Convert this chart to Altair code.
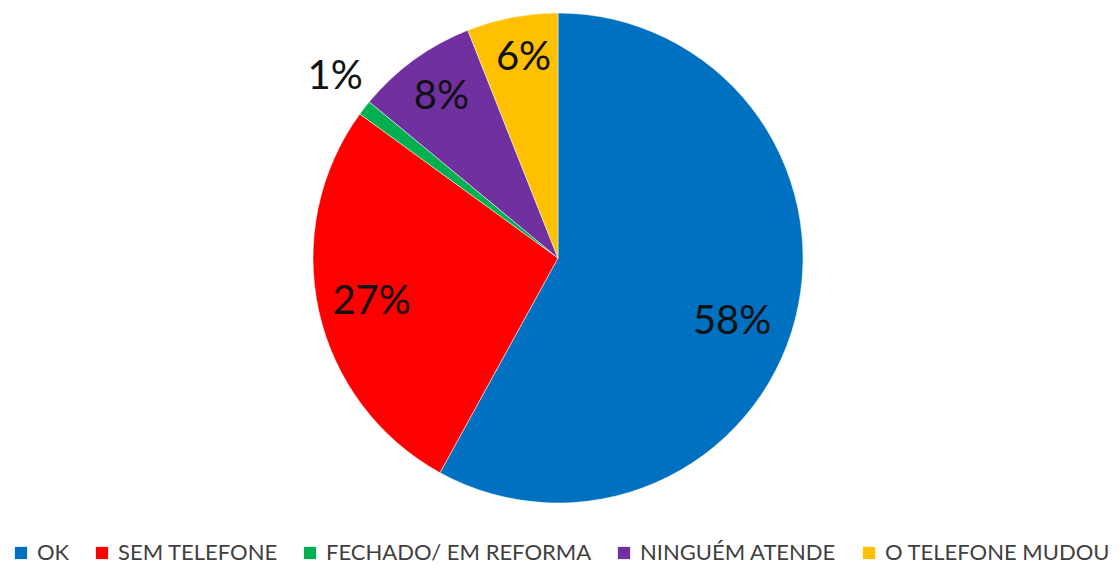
import altair as alt
import pandas as pd
import math

categories = ["OK", "SEM TELEFONE", "FECHADO/ EM REFORMA", "NINGUÉM ATENDE", "O TELEFONE MUDOU"]
values = [58, 27, 1, 8, 6]
labels = ["58%", "27%", "1%", "8%", "6%"]
colors = ["#0070C0", "#FF0000", "#00B050", "#7030A0", "#FFC000"]

df = pd.DataFrame({
    "cat": categories,
    "value": values,
    "label": labels,
    "order": list(range(len(categories))),
})

pie = alt.Chart(df).mark_arc(outerRadius=245, stroke="white", strokeWidth=0.5).encode(
    theta=alt.Theta("value:Q", stack=True),
    order=alt.Order("order:Q"),
    color=alt.Color(
        "cat:N",
        scale=alt.Scale(domain=categories, range=colors),
        sort=categories,
        legend=alt.Legend(
            title=None,
            orient="none",
            legendX=2,
            legendY=534,
            padding=0,
            direction="horizontal",
            columns=5,
            symbolType="square",
            symbolSize=150,
            symbolStrokeWidth=0,
            labelFont="Lato",
            labelFontSize=22,
            labelColor="#404040",
            labelLimit=0,
            columnPadding=21,
            symbolOffset=0,
            labelOffset=5,
        ),
    ),
)

labelled = (
    alt.Chart(df)
    .transform_window(cum="sum(value)", sort=[alt.SortField("order")])
    .transform_joinaggregate(total="sum(value)")
    .transform_calculate(mid="(datum.cum - datum.value / 2) / datum.total")
)

# per-label placement (radius, dx, dy), as in the reference's data-label layout
placement = {
    "OK": (187, -7, 17),
    "SEM TELEFONE": (193, 2, 2),
    "FECHADO/ EM REFORMA": (287, 4, -5),
    "NINGUÉM ATENDE": (200, 1, 1),
    "O TELEFONE MUDOU": (200, 3, -4),
}

texts = []
for cat, (r, dx, dy) in placement.items():
    texts.append(
        labelled.transform_filter(alt.datum.cat == cat)
        .mark_text(font="Lato", fontSize=40, color="#111111", radius=r, dx=dx, dy=dy)
        .encode(
            theta=alt.Theta("mid:Q", stack=None, scale=alt.Scale(domain=[0, 1], range=[0, 2 * math.pi])),
            text="label:N",
        )
    )

chart = (
    alt.layer(pie, *texts)
    .resolve_scale(theta="independent")
    .properties(width=1100, height=500, padding=0)
    .configure_view(stroke=None)
    .configure(background="white")
)

chart.save("out.html", embed_options={"renderer": "svg", "actions": False})
